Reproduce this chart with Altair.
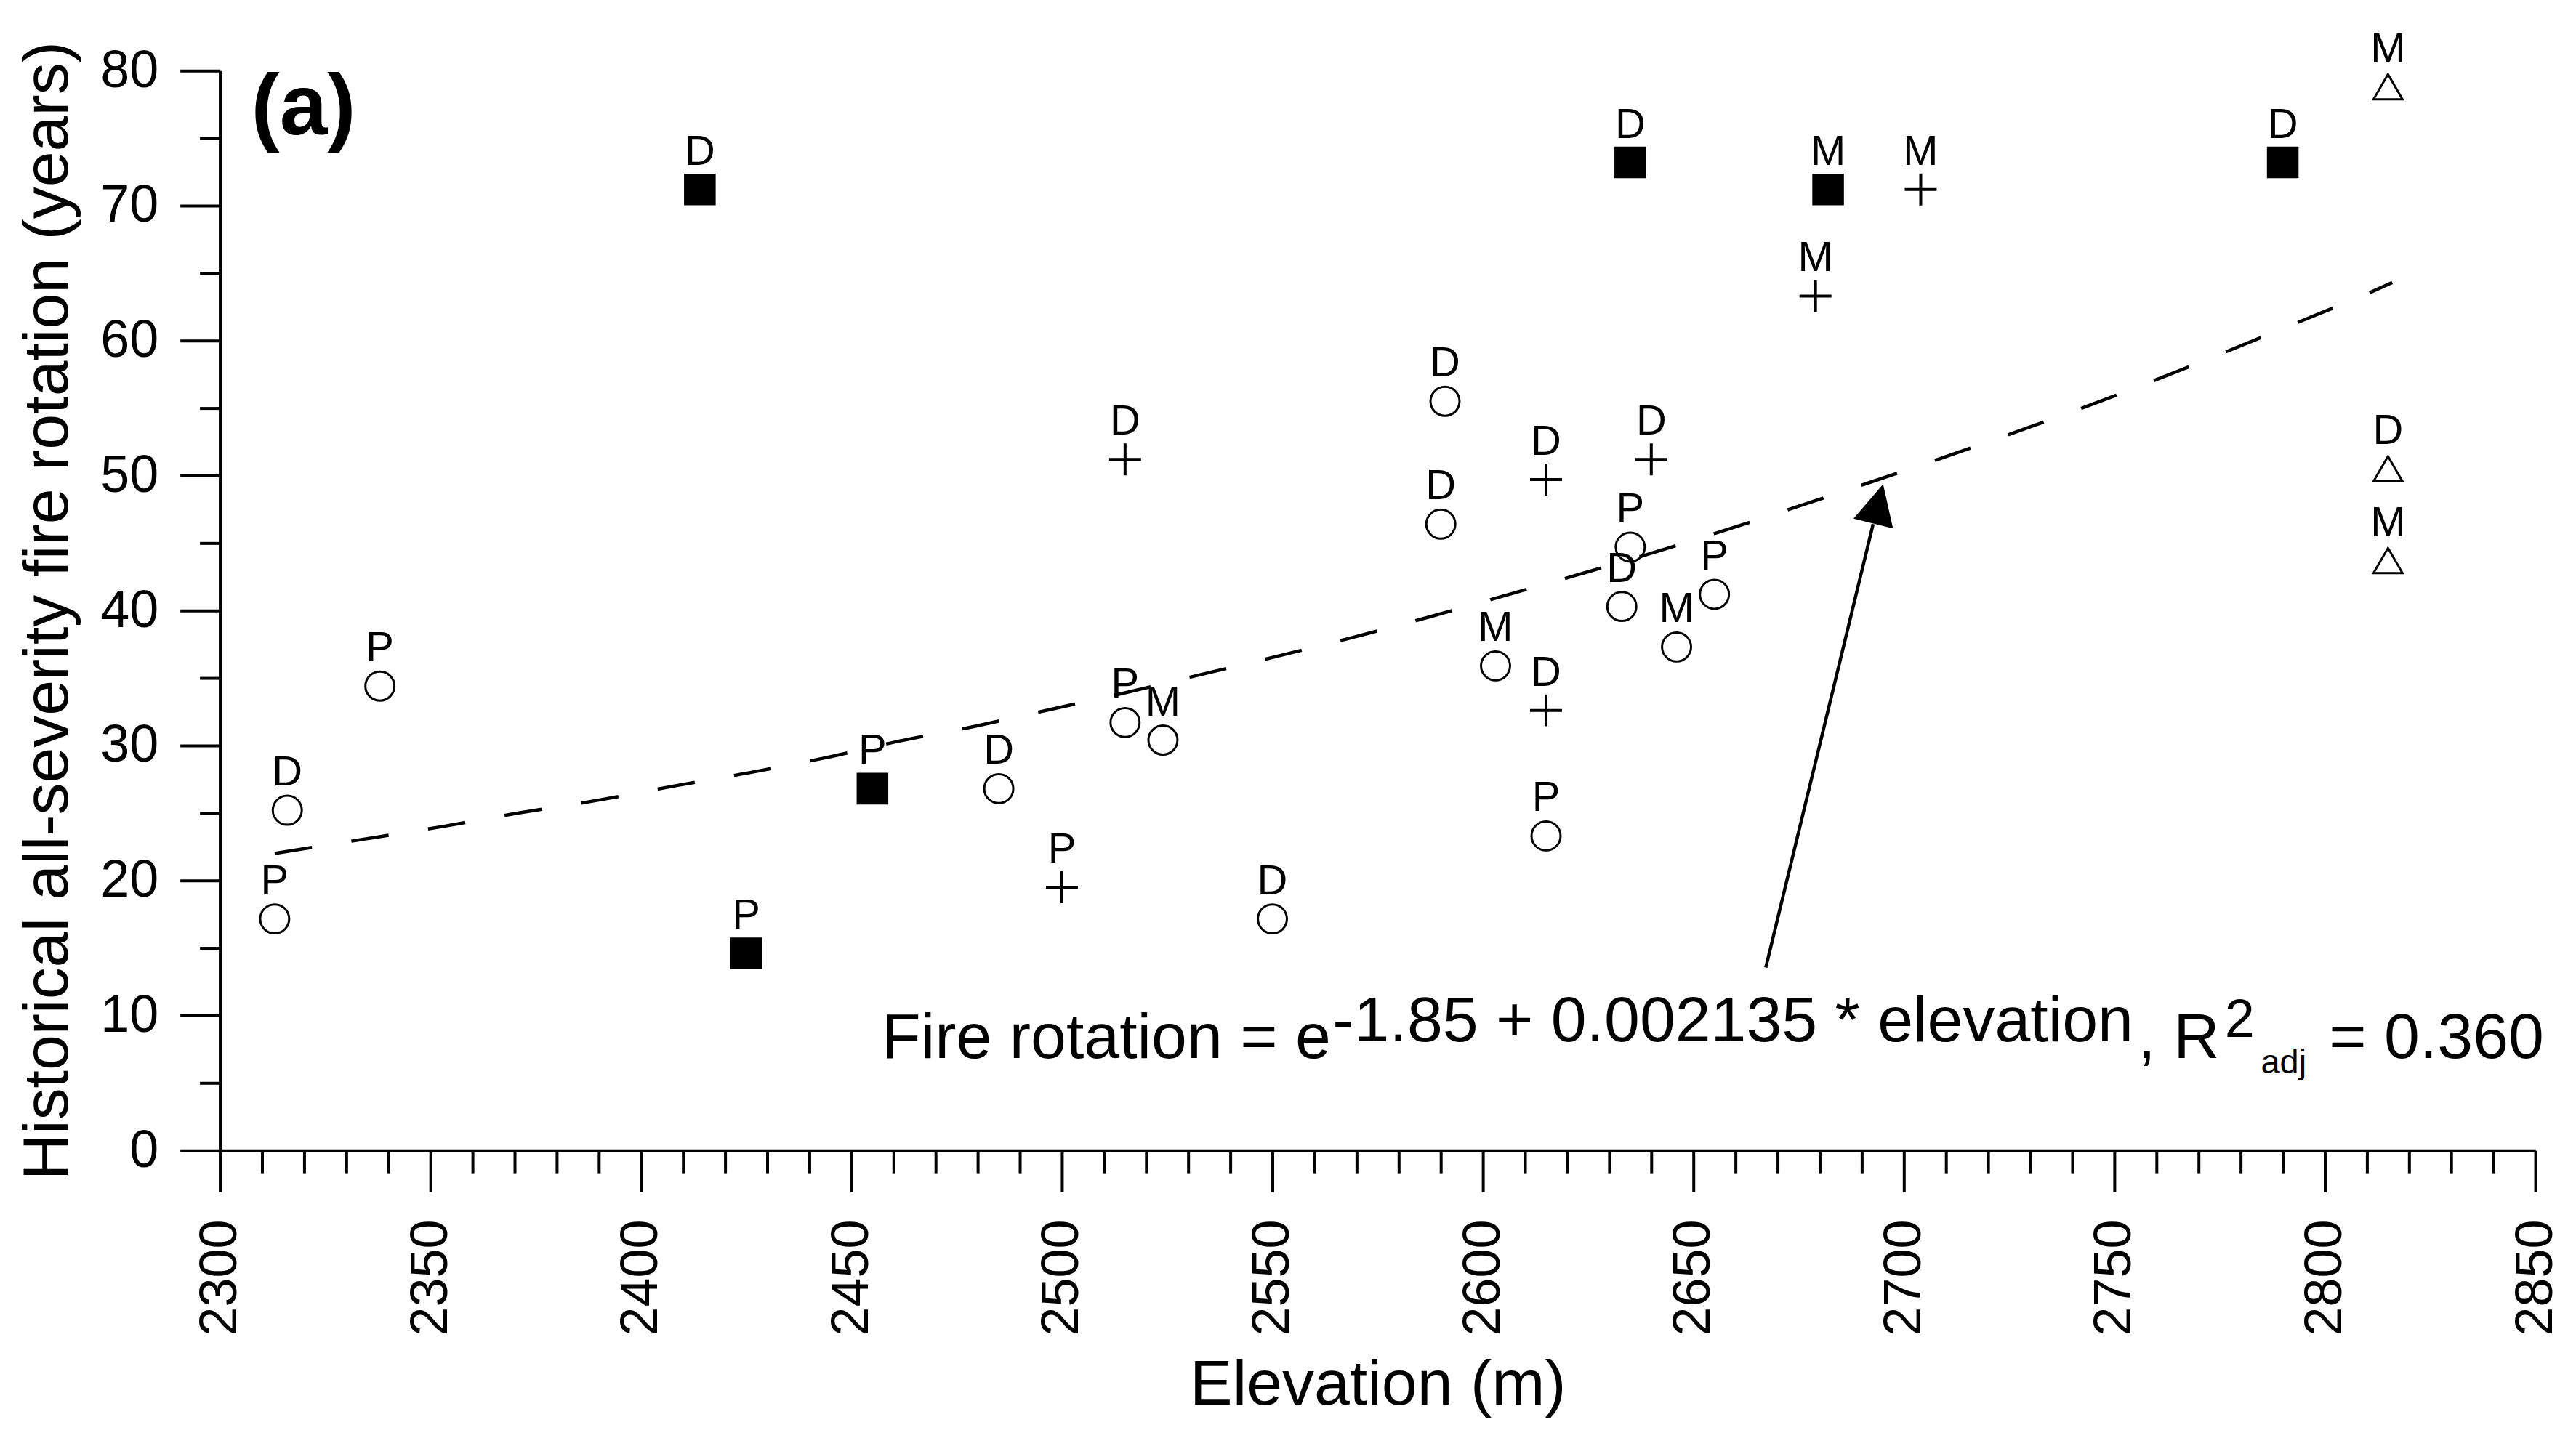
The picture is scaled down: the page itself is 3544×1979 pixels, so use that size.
import altair as alt
import pandas as pd

# ---- data ----
# filled squares
sq_elev = [2414, 2425, 2455, 2635, 2682, 2790]
sq_rot = [71.2, 14.6, 26.8, 73.2, 71.2, 73.2]
sq_lab = ["D", "P", "P", "D", "M", "D"]

# plus signs
pl_elev = [2500, 2515, 2615, 2615, 2640, 2679, 2704]
pl_rot = [19.5, 51.2, 49.7, 32.6, 51.2, 63.3, 71.2]
pl_lab = ["P", "D", "D", "D", "D", "M", "M"]

# open circles
ci_elev = [2313, 2316, 2338, 2485, 2515, 2524, 2550, 2591, 2590, 2603, 2615, 2633, 2635, 2646, 2655]
ci_rot = [17.15, 25.2, 34.4, 26.8, 31.7, 30.4, 17.15, 55.5, 46.4, 35.9, 23.3, 40.3, 44.7, 37.3, 41.2]
ci_lab = ["P", "D", "P", "D", "P", "M", "D", "D", "D", "M", "P", "D", "P", "M", "P"]

# open triangles
tr_elev = [2815, 2815, 2815]
tr_rot = [78.8, 50.5, 43.7]
tr_lab = ["M", "D", "M"]

# fitted curve (dashed)
fit_elev = [2313, 2335, 2353, 2371, 2389, 2408, 2426, 2444, 2461, 2479, 2497, 2515, 2533,
            2551, 2569, 2587, 2604, 2622, 2639, 2657, 2692, 2709, 2750, 2794, 2811, 2816]
fit_rot = [22.0, 23.1, 24.0, 25.0, 25.9, 27.0, 28.0, 29.1, 30.3, 31.4, 32.65, 33.9, 35.25,
           36.6, 38.0, 39.5, 41.0, 42.6, 44.15, 45.9, 49.5, 51.3, 55.9, 61.4, 63.6, 64.3]

x_ticks = list(range(2300, 2851, 10))
y_ticks = list(range(0, 81, 5))

FONT = "Liberation Sans"

sq = pd.DataFrame({"elev": sq_elev, "rot": sq_rot, "lab": sq_lab})
pl = pd.DataFrame({"elev": pl_elev, "rot": pl_rot, "lab": pl_lab})
ci = pd.DataFrame({"elev": ci_elev, "rot": ci_rot, "lab": ci_lab})
tr = pd.DataFrame({"elev": tr_elev, "rot": tr_rot, "lab": tr_lab})
fit = pd.DataFrame({"elev": fit_elev, "rot": fit_rot})
pts = pd.concat([sq, pl, ci, tr], ignore_index=True)

X = alt.X(
    "elev:Q",
    scale=alt.Scale(domain=[2300, 2850], nice=False, zero=False),
    axis=alt.Axis(
        values=x_ticks, format="d",
        labelExpr="datum.value % 50 === 0 ? datum.label : ''",
        tickSize={"condition": {"test": "datum.value % 50 === 0", "value": 57}, "value": 31},
        tickWidth=4, tickColor="black", domainColor="black", domainWidth=4,
        labelFont=FONT, labelFontSize=72, labelColor="black", labelAngle=270,
        labelPadding=38, labelOverlap=False, labelFlush=False,
        title="Elevation (m)", titleFont=FONT, titleFontSize=88, titleFontWeight="normal",
        titleColor="black", titleBaseline="alphabetic", titleY=350, grid=False,
    ),
)
Y = alt.Y(
    "rot:Q",
    scale=alt.Scale(domain=[0, 80], nice=False, zero=True),
    axis=alt.Axis(
        values=y_ticks, format="d",
        labelExpr="datum.value % 10 === 0 ? datum.label : ''",
        tickSize={"condition": {"test": "datum.value % 10 === 0", "value": 55}, "value": 28},
        tickWidth=4, tickColor="black", domainColor="black", domainWidth=4,
        labelFont=FONT, labelFontSize=72, labelColor="black",
        labelPadding=30, labelOverlap=False, labelFlush=False,
        title="Historical all-severity fire rotation (years)", titleFont=FONT,
        titleFontSize=88, titleFontWeight="normal", titleColor="black",
        titlePadding=27, grid=False,
    ),
)

squares = alt.Chart(sq).mark_point(
    shape="square", filled=True, size=1900, color="black", opacity=1
).encode(x=X, y=Y)

circles = alt.Chart(ci).mark_point(
    shape="circle", filled=False, size=1600, color="black", strokeWidth=3, opacity=1
).encode(x=X, y=Y)

pluses = alt.Chart(pl).mark_point(
    shape="M-1,0L1,0M0,-1L0,1", filled=False, size=1936, color="black",
    strokeWidth=4, opacity=1
).encode(x=X, y=Y)

triangles = alt.Chart(tr).mark_point(
    shape="triangle-up", filled=False, size=1600, color="black", strokeWidth=3, opacity=1
).encode(x=X, y=Y)

labels = alt.Chart(pts).mark_text(
    font=FONT, fontSize=58, color="black", align="center", baseline="alphabetic", dy=-34
).encode(x=X, y=Y, text="lab:N")

curve = alt.Chart(fit).mark_line(
    color="black", strokeWidth=4.5, strokeDash=[52, 55], interpolate="monotone"
).encode(x=X, y=Y)

# arrow pointing to the fitted curve
arrow_df = pd.DataFrame({"elev": [2667.2], "rot": [13.55], "elev2": [2692.7], "rot2": [46.4]})
shaft = alt.Chart(arrow_df).mark_rule(color="black", strokeWidth=4.5).encode(
    x=X, y=Y, x2="elev2:Q", y2="rot2:Q"
)
head_df = pd.DataFrame({"elev": [2693.9], "rot": [47.9]})
head = alt.Chart(head_df).mark_point(
    shape="M0,-1L1,1L-1,1Z", filled=True, size=3136, angle=14, color="black", opacity=1
).encode(x=X, y=Y)

def note(text, ex, ey, size, weight="normal"):
    d = pd.DataFrame({"elev": [ex], "rot": [ey], "t": [text]})
    return alt.Chart(d).mark_text(
        font=FONT, fontSize=size, fontWeight=weight, color="black",
        align="left", baseline="alphabetic"
    ).encode(x=X, y=Y, text="t:N")

eq = [
    note("Fire rotation = e", 2457.2, 6.83, 88),
    note("-1.85 + 0.002135 * elevation", 2564.3, 8.06, 88),
    note(", R", 2755.6, 6.83, 88),
    note("2", 2776.2, 8.39, 74),
    note("adj", 2784.8, 5.70, 47),
    note("= 0.360", 2801.0, 6.83, 88),
    note("(a)", 2307.4, 75.3, 118, "bold"),
]

chart = alt.layer(
    curve, shaft, head, squares, circles, pluses, triangles, labels, *eq
).properties(
    width=3190, height=1488,
    autosize=alt.AutoSizeParams(type="none"),
    padding={"left": 295, "top": 88, "right": 48, "bottom": 375},
    background="white",
).configure_view(stroke=None)

chart.save("out.html", embed_options={"renderer": "svg", "actions": False})
